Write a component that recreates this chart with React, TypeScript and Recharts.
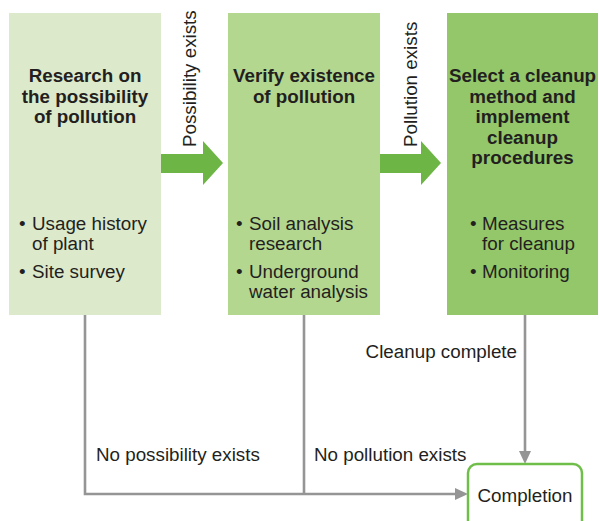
import React from "react";
import { ComposedChart, XAxis, YAxis, ReferenceArea, ReferenceDot, Scatter } from "recharts";

// ---- Content (text) ----
const stepTitles: string[][] = [
  ["Research on", "the possibility", "of pollution"],
  ["Verify existence", "of pollution"],
  ["Select a cleanup", "method and", "implement", "cleanup", "procedures"],
];
const stepBullets: string[][][] = [
  [["Usage history", "of plant"], ["Site survey"]],
  [["Soil analysis", "research"], ["Underground", "water analysis"]],
  [["Measures", "for cleanup"], ["Monitoring"]],
];
const transitionLabels: string[] = ["Possibility exists", "Pollution exists"];
const exitLabels: string[] = ["No possibility exists", "No pollution exists", "Cleanup complete"];
const endLabel = "Completion";

// ---- Layout (diagram coordinates) ----
const W = 599;
const H = 521;
const FONT = "'Liberation Sans', Arial, Helvetica, sans-serif";
const FS = 18.8;
const TEXT = "#231f20";
const GRAY = "#959595";
const ARROW_GREEN = "#6db545";
const BOX_FILLS = ["#dde9cb", "#b4d790", "#94c76a"];
const BOX_X = [
  [9, 161],
  [228, 380],
  [447, 598],
];
const BOX_Y = [13, 315];
const BULLET_INDENT = [
  [10, 23],
  [8, 21],
  [23, 35],
];
const TITLE_Y0 = 82;
const TITLE_STEP = 20.5;
const BULLET_Y0 = 230;
const BULLET_LINE = 20;
const BULLET_GAP = 28;

const ARROWS = [
  { x1: 161, x2: 223, lx: 196 },
  { x1: 380, x2: 441, lx: 417 },
];

const connectors = [
  [
    { x: 85, y: 315 },
    { x: 85, y: 494 },
    { x: 457, y: 494 },
  ],
  [
    { x: 304, y: 315 },
    { x: 304, y: 494 },
  ],
  [
    { x: 525, y: 315 },
    { x: 525, y: 453 },
  ],
];

const makeBoxShape = (i: number) => (p: any) => {
  const { x, y, width, height } = p;
  const cx = x + width / 2;
  const titles = stepTitles[i];
  let by = y + (BULLET_Y0 - BOX_Y[0]);
  const bulletEls: React.ReactNode[] = [];
  stepBullets[i].forEach((item, k) => {
    bulletEls.push(
      <text key={`b${k}`} x={x + BULLET_INDENT[i][0]} y={by} fontSize={FS} fill={TEXT} fontFamily={FONT}>
        •
      </text>
    );
    item.forEach((line, j) => {
      bulletEls.push(
        <text key={`t${k}-${j}`} x={x + BULLET_INDENT[i][1]} y={by + j * BULLET_LINE} fontSize={FS} fill={TEXT} fontFamily={FONT}>
          {line}
        </text>
      );
    });
    by += (item.length - 1) * BULLET_LINE + BULLET_GAP;
  });
  return (
    <g>
      <rect x={x} y={y} width={width} height={height} fill={BOX_FILLS[i]} />
      {titles.map((t, j) => (
        <text
          key={j}
          x={cx}
          y={y + (TITLE_Y0 - BOX_Y[0]) + j * TITLE_STEP}
          textAnchor="middle"
          fontSize={FS}
          fontWeight="bold"
          fill={TEXT}
          fontFamily={FONT}
        >
          {t}
        </text>
      ))}
      {bulletEls}
    </g>
  );
};

const greenArrowShape = (p: any) => {
  const { x, y, width, height } = p;
  const headLen = 20;
  const shaftTop = y + 13;
  const shaftBot = y + 32;
  const midY = y + height / 2;
  const hx = x + width - headLen;
  const pts = [
    [x, shaftTop],
    [hx, shaftTop],
    [hx, y],
    [x + width, midY],
    [hx, y + height],
    [hx, shaftBot],
    [x, shaftBot],
  ]
    .map((q) => q.join(","))
    .join(" ");
  return <polygon points={pts} fill={ARROW_GREEN} />;
};

const rightHead = (p: any) => {
  const { x, y, width, height } = p;
  return <polygon points={`${x},${y} ${x + width},${y + height / 2} ${x},${y + height}`} fill={GRAY} />;
};
const downHead = (p: any) => {
  const { x, y, width, height } = p;
  return <polygon points={`${x},${y} ${x + width},${y} ${x + width / 2},${y + height}`} fill={GRAY} />;
};

const completionShape = (p: any) => {
  const { x, y, width, height } = p;
  return (
    <g>
      <rect x={x} y={y} width={width} height={height + 14} rx={9} ry={9} fill="#ffffff" stroke="#6fbe4a" strokeWidth={2.5} />
      <text x={x + width / 2} y={502} textAnchor="middle" fontSize={FS} fill={TEXT} fontFamily={FONT}>
        {endLabel}
      </text>
    </g>
  );
};

const textDot = (label: string, anchor: "start" | "end" | "middle", rotate = false) => (p: any) => {
  const { cx, cy } = p;
  return (
    <text
      x={cx}
      y={cy}
      textAnchor={anchor}
      fontSize={FS}
      fill={TEXT}
      fontFamily={FONT}
      transform={rotate ? `rotate(-90, ${cx}, ${cy})` : undefined}
    >
      {label}
    </text>
  );
};

export default function App() {
  return (
    <div style={{ position: "absolute", left: 0, top: 0, width: W, height: H, background: "#fff" }}>
      <ComposedChart width={W} height={H} margin={{ top: 0, right: 0, bottom: 0, left: 0 }}>
        <XAxis type="number" dataKey="x" domain={[0, W]} hide allowDataOverflow />
        <YAxis type="number" dataKey="y" domain={[0, H]} reversed hide allowDataOverflow />

        {BOX_X.map((bx, i) => (
          <ReferenceArea key={`box${i}`} x1={bx[0]} x2={bx[1]} y1={BOX_Y[0]} y2={BOX_Y[1]} shape={makeBoxShape(i)} ifOverflow="visible" />
        ))}

        {ARROWS.map((a, i) => (
          <ReferenceArea key={`ga${i}`} x1={a.x1} x2={a.x2} y1={141} y2={185} shape={greenArrowShape} ifOverflow="visible" />
        ))}
        {ARROWS.map((a, i) => (
          <ReferenceDot key={`gl${i}`} x={a.lx} y={147} r={0} shape={textDot(transitionLabels[i], "start", true)} ifOverflow="visible" />
        ))}

        {connectors.map((c, i) => (
          <Scatter
            key={`c${i}`}
            data={c}
            line={{ stroke: GRAY, strokeWidth: 2.6, strokeLinejoin: "miter" }}
            lineType="joint"
            shape={() => <g />}
            isAnimationActive={false}
          />
        ))}

        <ReferenceArea x1={455} x2={468} y1={488} y2={500} shape={rightHead} ifOverflow="visible" />
        <ReferenceArea x1={519} x2={531} y1={451} y2={464} shape={downHead} ifOverflow="visible" />

        <ReferenceArea x1={468} x2={582} y1={464} y2={H} shape={completionShape} ifOverflow="visible" />

        <ReferenceDot x={96} y={461} r={0} shape={textDot(exitLabels[0], "start")} ifOverflow="visible" />
        <ReferenceDot x={314} y={461} r={0} shape={textDot(exitLabels[1], "start")} ifOverflow="visible" />
        <ReferenceDot x={517} y={358} r={0} shape={textDot(exitLabels[2], "end")} ifOverflow="visible" />
      </ComposedChart>
    </div>
  );
}
